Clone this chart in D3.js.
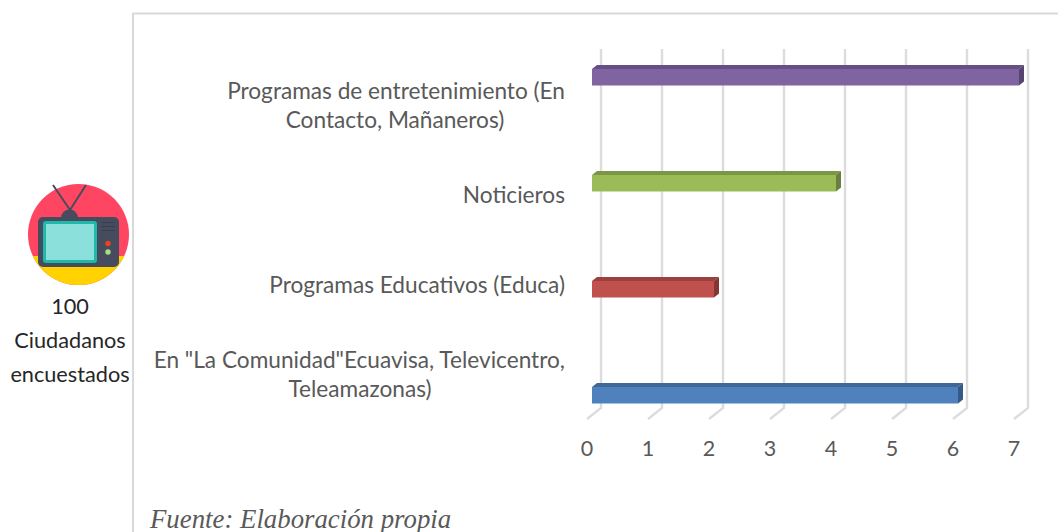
<!DOCTYPE html>
<html><head><meta charset="utf-8">
<script src="https://cdnjs.cloudflare.com/ajax/libs/d3/7.8.5/d3.min.js"></script>
<style>html,body{margin:0;padding:0;background:#fff}svg{display:block}</style></head>
<body><div id="c"></div>
<script>
const categories=['En "La Comunidad"Ecuavisa, Televicentro, Teleamazonas)','Programas Educativos (Educa)','Noticieros','Programas de entretenimiento (En Contacto, Mañaneros)'];
const categoryLines=[['En "La Comunidad"Ecuavisa, Televicentro,','Teleamazonas)'],['Programas Educativos (Educa)'],['Noticieros'],['Programas de entretenimiento (En','Contacto, Mañaneros)']];
const values=[6,2,4,7];
const tickValues=[0,1,2,3,4,5,6,7];
const faceColors=['#4f81bd','#c0504d','#9bbb59','#8064a2'];
const topColors=['#3f6797','#9a403e','#7c9647','#664f82'];
const sideColors=['#355a85','#833634','#6a7f3c','#574570'];
const W=1058,H=532;
const svg=d3.select('#c').append('svg').attr('width',W).attr('height',H);
const x=d3.scaleLinear().domain([0,7]).range([592,1019]);
const y=d3.scalePoint().domain(categories).range([387,69]);
const dx=5,dy=4,barH=16.5;
const font='Lato,sans-serif',txt='#595959';
// frame
svg.append('path').attr('d',`M133,${H}V13.5H${W}`).attr('fill','none').attr('stroke','#d9d9d9').attr('stroke-width',2);
// gridlines and floor
const gridX=v=>x(v)+9, gridTop=49, gridBot=408;
svg.append('g').selectAll('path').data(tickValues).join('path')
 .attr('d',v=>`M${gridX(v)},${gridTop}V${gridBot}L${gridX(v)-14},419`)
 .attr('fill','none').attr('stroke','#dcdcdc').attr('stroke-width',2.4);
// bars
const bars=svg.append('g').selectAll('g').data(values).join('g');
const fy=i=>y(categories[i]);
bars.append('path').attr('fill',(d,i)=>topColors[i])
 .attr('d',(d,i)=>`M${x(0)},${fy(i)}L${x(0)+dx},${fy(i)-dy}H${x(d)+dx}L${x(d)},${fy(i)}Z`);
bars.append('path').attr('fill',(d,i)=>sideColors[i])
 .attr('d',(d,i)=>`M${x(d)},${fy(i)}L${x(d)+dx},${fy(i)-dy}V${fy(i)+barH-dy}L${x(d)},${fy(i)+barH}Z`);
bars.append('rect').attr('fill',(d,i)=>faceColors[i])
 .attr('x',x(0)).attr('y',(d,i)=>fy(i)).attr('width',d=>x(d)-x(0)).attr('height',barH);
// axis labels
svg.append('g').selectAll('text').data(tickValues).join('text')
 .attr('x',v=>x(v)-5).attr('y',456).attr('text-anchor','middle')
 .attr('font-family',font).attr('font-size',21.5).attr('fill',txt).text(v=>v);
// category labels
const lab=svg.append('g').selectAll('text').data(categoryLines).join('text')
 .attr('font-family',font).attr('font-size',22.65).attr('fill',txt);
const labelY=[360,285,195,91];
lab.each(function(lines,i){
  const t=d3.select(this);
  lines.forEach((l,k)=>{
    t.append('tspan').attr('x',k===0?565:(i===0?360:395)).attr('y',labelY[i]+k*29+7.5)
     .attr('text-anchor',k===0?'end':'middle').text(l);
  });
});
// TV icon
const tv=svg.append('g');
tv.append('rect').attr('x',0).attr('y',170).attr('width',132).attr('height',230).attr('fill','#fff');
const cp=svg.append('clipPath').attr('id','cc');
cp.append('circle').attr('cx',78.5).attr('cy',234.5).attr('r',50.5);
const ic=tv.append('g').attr('clip-path','url(#cc)');
ic.append('rect').attr('x',25).attr('y',180).attr('width',110).attr('height',110).attr('fill','#fe4662');
ic.append('rect').attr('x',25).attr('y',256).attr('width',110).attr('height',32).attr('fill','#ffd200');
tv.append('path').attr('d','M53,185L70,210M86,185L70,210').attr('stroke','#464c5e').attr('stroke-width',2).attr('fill','none');
tv.append('path').attr('d','M61,218a8.5,8.5 0 0 1 17,0Z').attr('fill','#464c5e');
tv.append('rect').attr('x',38).attr('y',217).attr('width',81).attr('height',50).attr('rx',5).attr('fill','#464c5e');
tv.append('rect').attr('x',43).attr('y',221).attr('width',54).attr('height',42).attr('rx',3).attr('fill','#1fb9ac');
tv.append('rect').attr('x',46).attr('y',224).attr('width',48).attr('height',36).attr('fill','#8ce0dc');
tv.append('path').attr('d','M102,222.5h13M102,226.5h13M102,230.5h13').attr('stroke','#393e4e').attr('stroke-width',1.2);
tv.append('circle').attr('cx',108).attr('cy',243.5).attr('r',2.7).attr('fill','#e8451f');
tv.append('circle').attr('cx',108).attr('cy',252).attr('r',2.7).attr('fill','#a6e07a');
const notes=['100','Ciudadanos','encuestados'];
tv.selectAll('text').data(notes).join('text').attr('x',70).attr('y',(d,i)=>314+i*34)
 .attr('text-anchor','middle').attr('font-family',font).attr('font-size',21.7).attr('fill','#262626').text(d=>d);
// source
svg.append('text').attr('x',150).attr('y',527.5).attr('font-family','"Liberation Serif",serif').attr('font-style','italic')
 .attr('font-size',26.8).attr('fill','#595959').text('Fuente: Elaboración propia');
</script></body></html>
